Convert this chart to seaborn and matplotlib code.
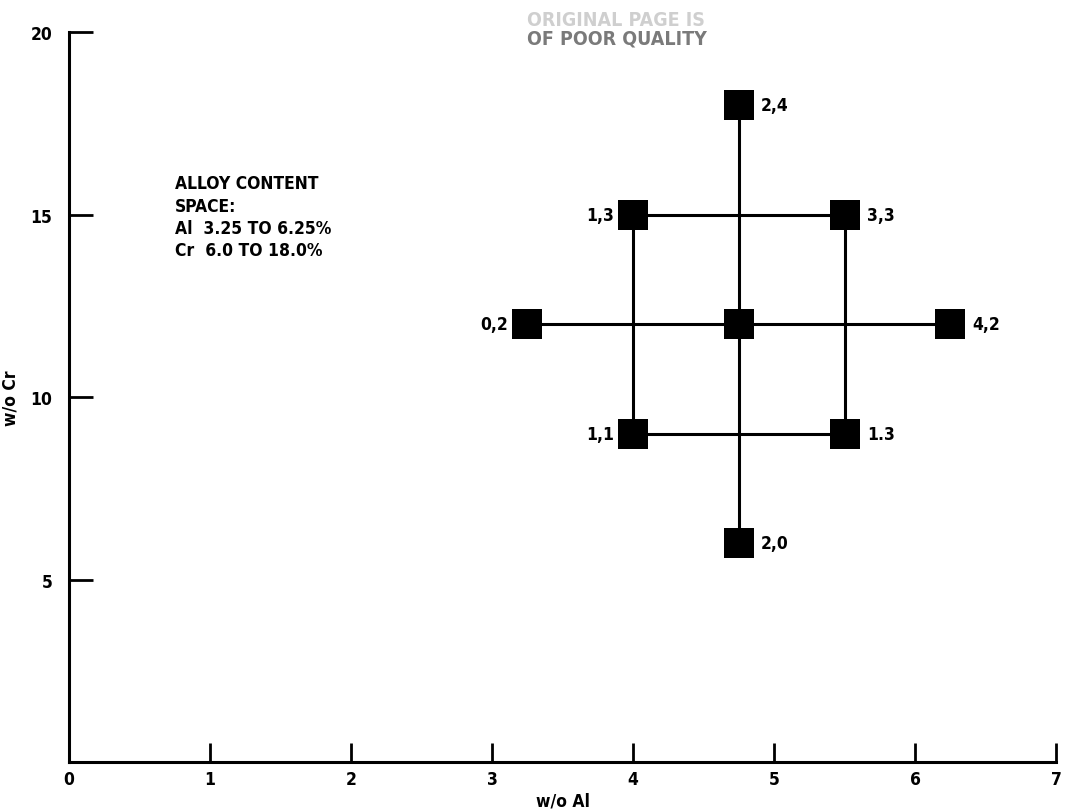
import matplotlib
matplotlib.use("Agg")
import matplotlib.pyplot as plt
import seaborn as sns
import pandas as pd

# Data
al = [3.25, 4.0, 4.0, 4.75, 4.75, 4.75, 5.5, 5.5, 6.25]
cr = [12.0, 15.0, 9.0, 18.0, 12.0, 6.0, 15.0, 9.0, 12.0]
point_labels = ["0,2", "1,3", "1,1", "2,4", "", "2,0", "3,3", "1.3", "4,2"]
label_side = ["left", "left", "left", "right", "right", "right", "right", "right", "right"]

seg_id = [0, 0, 1, 1, 2, 2, 2, 2, 2]
seg_al = [3.25, 6.25, 4.75, 4.75, 4.0, 5.5, 5.5, 4.0, 4.0]
seg_cr = [12.0, 12.0, 6.0, 18.0, 9.0, 9.0, 15.0, 15.0, 9.0]

x_ticks = [0, 1, 2, 3, 4, 5, 6, 7]
y_ticks = [5, 10, 15, 20]

sns.set_theme(style="white")
plt.rcParams['font.family'] = ['DejaVu Sans']
plt.rcParams['font.stretch'] = 'condensed'
plt.rcParams['font.weight'] = 'bold'
plt.rcParams['text.color'] = 'black'
plt.rcParams['axes.labelcolor'] = 'black'

FS = 12.5
fig = plt.figure(figsize=(10.65, 8.12), dpi=100)
ax = fig.add_axes([0.0648, 0.0603, 0.927, 0.899])

segs = pd.DataFrame({"seg": seg_id, "al": seg_al, "cr": seg_cr})
sns.lineplot(data=segs, x="al", y="cr", units="seg", estimator=None, sort=False,
             color="black", linewidth=2.2, ax=ax)

pts = pd.DataFrame({"al": al, "cr": cr})
sns.scatterplot(data=pts, x="al", y="cr", marker="s", s=470, color="black",
                edgecolor="black", linewidth=0, ax=ax, zorder=5)

for x, y, t, side in zip(al, cr, point_labels, label_side):
    if not t:
        continue
    if side == "right":
        ax.annotate(t, (x, y), xytext=(16, 0), textcoords="offset points",
                    ha="left", va="center", fontsize=FS, fontweight="bold", color="black")
    else:
        ax.annotate(t, (x, y), xytext=(-14, 0), textcoords="offset points",
                    ha="right", va="center", fontsize=FS, fontweight="bold", color="black")

ax.text(0.75, 16.1, "ALLOY CONTENT\nSPACE:\nAl  3.25 TO 6.25%\nCr  6.0 TO 18.0%",
        ha="left", va="top", fontsize=FS, fontweight="bold", linespacing=1.3, color="black")

ax.set_xlim(0, 7)
ax.set_ylim(0, 20)
ax.set_xticks(x_ticks)
ax.set_yticks(y_ticks)
ax.set_xticklabels([str(v) for v in x_ticks], fontsize=FS, fontweight="bold")
ax.set_yticklabels([str(v) for v in y_ticks], fontsize=FS, fontweight="bold")
ax.tick_params(axis="x", bottom=True, direction="in", length=14, width=2, pad=6, colors="black")
ax.tick_params(axis="y", left=True, direction="in", length=17, width=2, pad=12, colors="black")
ax.set_xlabel("w/o Al", fontsize=FS, fontweight="bold", labelpad=2, color="black")
ax.set_ylabel("w/o Cr", fontsize=FS, fontweight="bold", labelpad=8, color="black")
sns.despine(ax=ax)
for s in ["left", "bottom"]:
    ax.spines[s].set_linewidth(2.2)
    ax.spines[s].set_color("black")
ax.set_facecolor("white")

fig.text(0.495, 0.975, "ORIGINAL PAGE IS", fontsize=14, color="#cfcfcf", fontweight="bold",
         ha="left", va="center")
fig.text(0.495, 0.952, "OF POOR QUALITY", fontsize=14, color="#7a7a7a", fontweight="bold",
         ha="left", va="center")

fig.savefig("out.png", dpi=100)
